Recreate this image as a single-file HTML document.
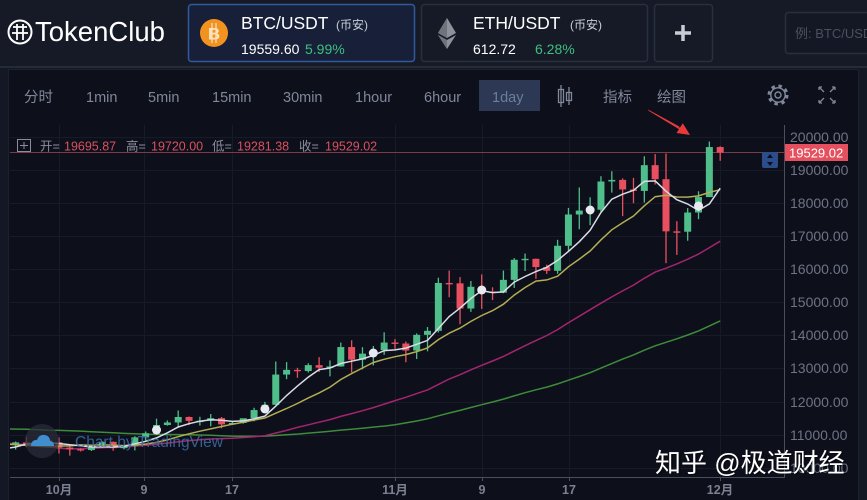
<!DOCTYPE html>
<html><head><meta charset="utf-8">
<style>
html,body{margin:0;padding:0;width:867px;height:500px;overflow:hidden;background:#141824;}
svg{display:block;font-family:"Liberation Sans","Noto Sans CJK SC",sans-serif;}
</style></head>
<body>
<svg id="s" width="867" height="500" viewBox="0 0 867 500" xmlns="http://www.w3.org/2000/svg">
<defs>
<clipPath id="cp"><rect x="10" y="125" width="774" height="352"/></clipPath>
</defs>
<!-- backgrounds -->
<rect x="0" y="0" width="867" height="500" fill="#141824"/>
<rect x="0" y="0" width="867" height="66" fill="#151a26"/>
<rect x="0" y="66" width="867" height="2" fill="#262b38"/>
<rect x="8.5" y="69.5" width="850" height="432" fill="#0d0f1b" stroke="#1c2131"/>

<!-- logo -->
<circle cx="20" cy="32" r="11.5" fill="none" stroke="#fff" stroke-width="2"/>
<line x1="13" y1="27" x2="27" y2="27" stroke="#fff" stroke-width="1.8"/>
<line x1="12" y1="33" x2="28" y2="33" stroke="#fff" stroke-width="1.8"/>
<line x1="17" y1="24" x2="17" y2="40" stroke="#fff" stroke-width="1.8"/>
<line x1="23" y1="24" x2="23" y2="40" stroke="#fff" stroke-width="1.8"/>
<text x="35" y="41" font-size="27.5" fill="#fff">TokenClub</text>

<!-- BTC box -->
<rect x="188.5" y="4.5" width="226" height="57" rx="3" fill="#172038" stroke="#2f5a9e" stroke-width="1.5"/>
<circle cx="214" cy="33" r="14" fill="#f2921f"/>
<text x="214" y="39.5" font-size="17" font-weight="bold" fill="#fde3bd" text-anchor="middle">B</text>
<line x1="212" y1="23" x2="212" y2="43" stroke="#fde3bd" stroke-width="1.2"/>
<line x1="216" y1="23" x2="216" y2="43" stroke="#fde3bd" stroke-width="1.2"/>
<text x="241" y="29" font-size="17.5" fill="#fff">BTC/USDT</text>
<text x="336" y="29" font-size="12" fill="#c8ccd5">(币安)</text>
<text x="241" y="54" font-size="14" fill="#fff">19559.60</text>
<text x="305" y="54" font-size="14" fill="#3fbf7f">5.99%</text>

<!-- ETH box -->
<rect x="421.5" y="4.5" width="226" height="57" rx="3" fill="#151a26" stroke="#2a2f3e" stroke-width="1.5"/>
<polygon points="447,18 456,33 447,38 438,33" fill="#8d919a"/>
<polygon points="447,18 447,38 438,33" fill="#6f737c"/>
<polygon points="447,40 456,35 447,49 438,35" fill="#8d919a"/>
<polygon points="447,40 447,49 438,35" fill="#6f737c"/>
<text x="473" y="29" font-size="17.5" fill="#fff">ETH/USDT</text>
<text x="570" y="29" font-size="12" fill="#c8ccd5">(币安)</text>
<text x="473" y="54" font-size="14" fill="#fff">612.72</text>
<text x="535" y="54" font-size="14" fill="#3fbf7f">6.28%</text>

<!-- plus box -->
<rect x="654.5" y="4.5" width="58" height="57" rx="3" fill="#151a26" stroke="#2a2f3e" stroke-width="1.5"/>
<line x1="675" y1="33" x2="691" y2="33" stroke="#c8ccd4" stroke-width="3.5"/>
<line x1="683" y1="25" x2="683" y2="41" stroke="#c8ccd4" stroke-width="3.5"/>

<!-- search -->
<rect x="785.5" y="12.5" width="95" height="41" rx="3" fill="#141824" stroke="#2a2f3e" stroke-width="1.5"/>
<text x="795" y="38" font-size="13" fill="#4a5060">例: BTC/USDT</text>

<!-- toolbar -->
<g font-size="14.5" fill="#7f889b">
<text x="24" y="102">分时</text>
<text x="86" y="102">1min</text>
<text x="148" y="102">5min</text>
<text x="212" y="102">15min</text>
<text x="283" y="102">30min</text>
<text x="355" y="102">1hour</text>
<text x="424" y="102">6hour</text>
<rect x="479" y="80" width="61" height="31" fill="#2c3854"/>
<text x="492" y="102" fill="#6b7ea0">1day</text>
<text x="603" y="102">指标</text>
<text x="657" y="102">绘图</text>
</g>
<g stroke="#7f889b" stroke-width="1.3" fill="none">
<line x1="561" y1="85" x2="561" y2="107"/><rect x="558.5" y="89.5" width="5" height="13"/>
<line x1="569" y1="87" x2="569" y2="105"/><rect x="566.5" y="92.5" width="5" height="8"/>
<circle cx="778" cy="95" r="9" stroke-width="3" stroke-dasharray="3.4 3.7"/>
<circle cx="778" cy="95" r="7.2" stroke-width="1.4"/>
<circle cx="778" cy="95" r="3" stroke-width="1.4"/>
<path d="M819 87 l5 5 M819 87 h3 M819 87 v3 M835 87 l-5 5 M835 87 h-3 M835 87 v3 M819 103 l5 -5 M819 103 h3 M819 103 v-3 M835 103 l-5 -5 M835 103 h-3 M835 103 v-3"/>
</g>

<!-- grid -->
<g stroke="#171b29" stroke-width="1">
<line x1="10" y1="137.5" x2="784" y2="137.5"/>
<line x1="10" y1="170.5" x2="784" y2="170.5"/>
<line x1="10" y1="203.5" x2="784" y2="203.5"/>
<line x1="10" y1="236.5" x2="784" y2="236.5"/>
<line x1="10" y1="269.5" x2="784" y2="269.5"/>
<line x1="10" y1="302.5" x2="784" y2="302.5"/>
<line x1="10" y1="335.5" x2="784" y2="335.5"/>
<line x1="10" y1="368.5" x2="784" y2="368.5"/>
<line x1="10" y1="402.5" x2="784" y2="402.5"/>
<line x1="10" y1="435.5" x2="784" y2="435.5"/>
<line x1="10" y1="468.5" x2="784" y2="468.5"/>
<line x1="59.5" y1="125" x2="59.5" y2="477"/>
<line x1="144.5" y1="125" x2="144.5" y2="477"/>
<line x1="232.5" y1="125" x2="232.5" y2="477"/>
<line x1="395.5" y1="125" x2="395.5" y2="477"/>
<line x1="482.5" y1="125" x2="482.5" y2="477"/>
<line x1="569.5" y1="125" x2="569.5" y2="477"/>
<line x1="720.5" y1="125" x2="720.5" y2="477"/>
</g>

<!-- price line -->
<line x1="10" y1="152.5" x2="784" y2="152.5" stroke="#7d3a48" stroke-width="1"/>

<!-- series -->
<g id="series" clip-path="url(#cp)"></g>

<!-- TradingView watermark -->
<circle cx="42" cy="441" r="17" fill="#2a2e3a" opacity="0.75"/>
<path d="M31 446 q0 -6 6 -6 q2 -6 8 -5 q5 1 5 6 q4 0 4 5 z" fill="#3f8fd0"/>
<text x="75" y="447" font-size="15.5" fill="#3c6fa5" opacity="0.85">Chart by TradingView</text>

<!-- right axis -->
<line x1="784.5" y1="125" x2="784.5" y2="477" stroke="#4a4f5e"/>
<g font-size="14" fill="#6e7484">
<text x="790" y="142">20000.00</text>
<text x="790" y="175">19000.00</text>
<text x="790" y="208">18000.00</text>
<text x="790" y="241">17000.00</text>
<text x="790" y="274">16000.00</text>
<text x="790" y="307">15000.00</text>
<text x="790" y="340">14000.00</text>
<text x="790" y="373">13000.00</text>
<text x="790" y="407">12000.00</text>
<text x="790" y="440">11000.00</text>
<text x="790" y="473">10000.00</text>
</g>
<rect x="785" y="144" width="63" height="17" fill="#e4505e"/>
<text x="789" y="157.5" font-size="13" fill="#fff">19529.02</text>
<rect x="762" y="152" width="16" height="16" rx="2" fill="#2b4d8c"/>
<path d="M770 154 l-3 4 h6 z M770 166 l-3 -4 h6 z" fill="#0d0f1b"/>

<!-- bottom axis -->
<line x1="10" y1="477.5" x2="785" y2="477.5" stroke="#4a4f5e"/>
<g stroke="#4a4f5e">
<line x1="59.5" y1="477" x2="59.5" y2="481"/><line x1="144.5" y1="477" x2="144.5" y2="481"/>
<line x1="232.5" y1="477" x2="232.5" y2="481"/><line x1="395.5" y1="477" x2="395.5" y2="481"/>
<line x1="482.5" y1="477" x2="482.5" y2="481"/><line x1="569.5" y1="477" x2="569.5" y2="481"/>
<line x1="720.5" y1="477" x2="720.5" y2="481"/>
</g>
<g font-size="12.5" font-weight="bold" fill="#7b8190" text-anchor="middle">
<text x="59" y="494">10月</text>
<text x="144" y="494">9</text>
<text x="232" y="494">17</text>
<text x="395" y="494">11月</text>
<text x="482" y="494">9</text>
<text x="569" y="494">17</text>
<text x="720" y="494">12月</text>
</g>

<!-- OHLC legend -->
<rect x="17.5" y="139.5" width="13" height="12" fill="none" stroke="#8a8f9c"/>
<line x1="24" y1="142" x2="24" y2="149" stroke="#8a8f9c"/>
<line x1="20" y1="145.5" x2="28" y2="145.5" stroke="#8a8f9c"/>
<g font-size="12.5">
<text x="40" y="150.5" fill="#8a8f9c">开=</text>
<text x="64" y="150.5" fill="#d9515f">19695.87</text>
<text x="126" y="150.5" fill="#8a8f9c">高=</text>
<text x="151" y="150.5" fill="#d9515f">19720.00</text>
<text x="212" y="150.5" fill="#8a8f9c">低=</text>
<text x="237" y="150.5" fill="#d9515f">19281.38</text>
<text x="299" y="150.5" fill="#8a8f9c">收=</text>
<text x="325" y="150.5" fill="#d9515f">19529.02</text>
</g>

<!-- red arrow annotation -->
<polygon points="648,109.5 648.6,110.8 681,130.4 679,126.4" fill="#e83a3a"/>
<polygon points="690,135 676.5,133 682.8,123.2" fill="#e83a3a"/>

<!-- zhihu watermark -->
<text x="657" y="473" font-size="26" fill="#000" opacity="0.35">知乎 @极道财经</text>
<text x="655" y="472" font-size="26" fill="#fff">知乎 @极道财经</text>
</svg>

<script>
(function(){
var NS="http://www.w3.org/2000/svg";
var g=document.getElementById('series');
var pre=[11110,11100,11335,11800,11070,11230,11190,11745,11765,11600,11755,11675,11880,11410,11585,11780,11765,11865,11910,12300,11975,11750,11855,11530,11680,11650,11755,11330,11460,11330,11535,11470,11710,11655,11925,11390,10170,10470,10170,10255,10375,10125,10225,10345,10395,10445,10330,10680,10786,10954,10939,10933,11080,10920,10418,10535,10241,10737,10690];
var D=[[10690,10780,10650,10728],[10728,10800,10556,10774],[10774,10950,10630,10696],[10696,10867,10635,10840],[10840,10849,10665,10776],
[10776,10920,10437,10619],[10619,10662,10374,10570],[10570,10596,10500,10542],[10542,10688,10514,10666],[10666,10800,10602,10792],
[10792,10800,10520,10599],[10599,10681,10562,10668],[10668,10960,10531,10925],[10925,11104,10831,11051],[11051,11491,11051,11299],
[11299,11437,11280,11376],[11376,11737,11215,11541],[11541,11557,11300,11425],[11425,11547,11280,11429],[11429,11631,11260,11505],
[11505,11540,11200,11319],[11319,11402,11300,11360],[11360,11488,11340,11503],[11503,11820,11411,11750],[11750,11999,11682,11910],
[11910,13217,11900,12823],[12823,13199,12683,12965],[12965,13027,12727,12931],[12931,13165,12885,13108],[13108,13350,12900,13031],
[13031,13250,12768,13068],[13068,13789,13058,13654],[13654,13860,12888,13272],[13272,13650,12980,13455],[13455,13687,13100,13560],
[13560,14100,13420,13791],[13791,13895,13600,13761],[13761,13820,13195,13549],[13549,14066,13292,14023],[14023,14259,13525,14144],
[14144,15750,14093,15590],[15590,15965,15160,15579],[15579,15769,14344,14818],[14818,15650,14717,15475],[15475,15850,14805,15328],
[15328,15460,15072,15297],[15297,15965,15280,15684],[15684,16340,15440,16291],[16291,16480,15952,16320],[16320,16326,15716,16070],
[16070,16143,15865,15957],[15957,16894,15870,16714],[16714,17858,16538,17659],[17659,18476,17214,17777],[17777,18179,17335,17802],
[17802,18815,17740,18656],[18656,18965,18320,18704],[18704,18750,17610,18415],[18415,18766,18000,18371],[18371,19418,18019,19149],
[19149,19484,18565,18725],[18725,19500,16188,17150],[17150,17457,16438,17139],[17139,17853,16865,17719],[17719,18360,17517,18185],
[18185,19863,18185,19696],[19696,19720,19281,19529]];
function X(k){return 4.76+k*10.84;}
function Y(p){return 137+(20000-p)*0.0331;}
function el(n,a){var e=document.createElementNS(NS,n);for(var k in a)e.setAttribute(k,a[k]);g.appendChild(e);return e;}
var closes=pre.concat(D.map(function(d){return d[3];}));
function ma(n){var pts=[];for(var k=0;k<D.length;k++){var idx=pre.length+k,s=0;for(var j=idx-n+1;j<=idx;j++)s+=closes[j];pts.push(X(k).toFixed(1)+','+Y(s/n).toFixed(1));}return pts.join(' ');}
el('polyline',{points:ma(60),fill:'none',stroke:'#3e8c3a','stroke-width':1.5});
el('polyline',{points:ma(30),fill:'none',stroke:'#a3256f','stroke-width':1.5});
for(var k=0;k<D.length;k++){
  var d=D[k],x=X(k),up=d[3]>=d[0],c=up?'#4fbe8a':'#e8505f';
  el('line',{x1:x,y1:Y(d[1]),x2:x,y2:Y(d[2]),stroke:c,'stroke-width':1.3});
  var t=Y(Math.max(d[0],d[3])),b=Y(Math.min(d[0],d[3]));
  el('rect',{x:x-3.5,y:t,width:7,height:Math.max(1.4,b-t),fill:c});
}
el('polyline',{points:ma(10),fill:'none',stroke:'#b3ad55','stroke-width':1.5});
el('polyline',{points:ma(5),fill:'none',stroke:'#d8dce6','stroke-width':1.5});
var mk=[[14,430],[24,409],[34,353],[44,290],[54,210],[64,206]];
mk.forEach(function(m){el('circle',{cx:X(m[0]),cy:m[1],r:4.5,fill:'#e8eaf0'});});
})();
</script>
</body></html>
